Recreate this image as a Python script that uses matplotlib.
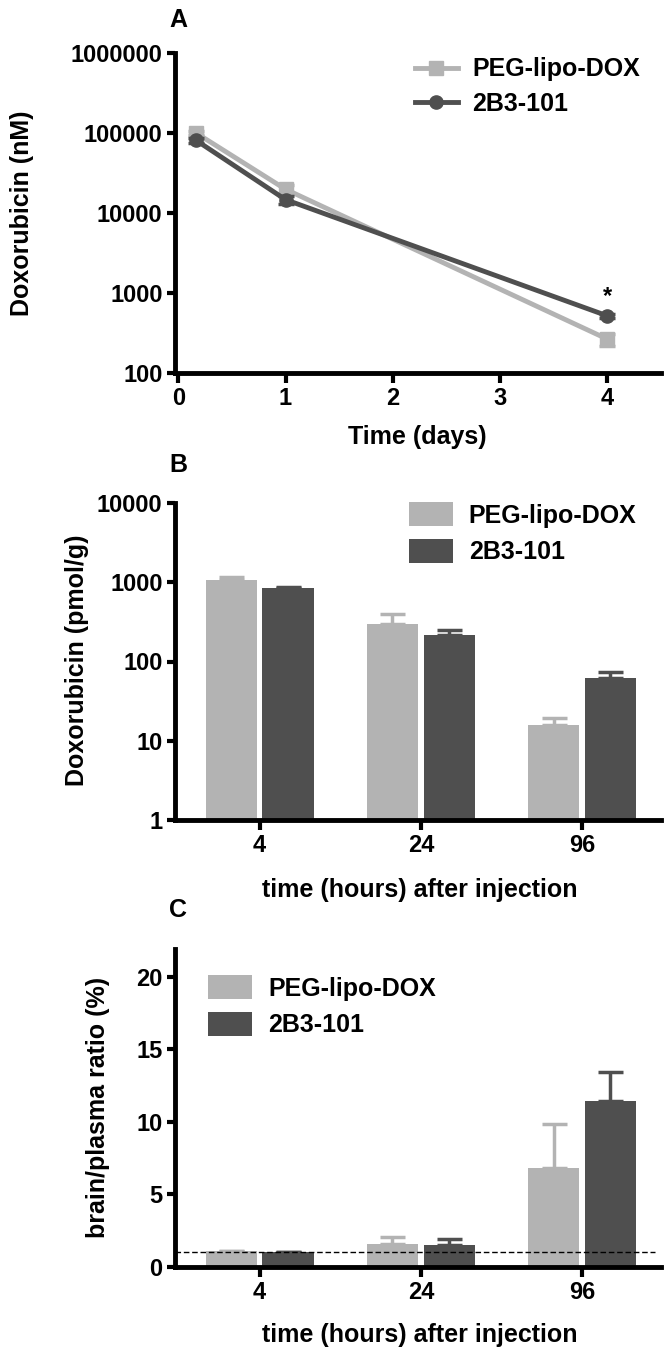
import numpy as np
import matplotlib
matplotlib.use("Agg")
import matplotlib.pyplot as plt
from matplotlib.ticker import FixedLocator, FuncFormatter, NullLocator

plt.rcParams["font.family"] = ["Liberation Sans", "DejaVu Sans"]
plt.rcParams["font.weight"] = "bold"
plt.rcParams["axes.labelweight"] = "bold"

# ---- data ----
series = ["PEG-lipo-DOX", "2B3-101"]
colors = ["#b3b3b3", "#4f4f4f"]

# panel A: plasma doxorubicin (nM) vs time (days)
a_days = [4 / 24, 1, 4]
a_peg = [100000, 19800, 265]
a_peg_err = [6000, 2500, 45]
a_2b3 = [81000, 14700, 518]
a_2b3_err = [5000, 1600, 30]
a_yticks = [100, 1000, 10000, 100000, 1000000]

# panel B: brain doxorubicin (pmol/g)
hours = ["4", "24", "96"]
b_peg = [1070, 301, 15.9]
b_peg_err = [110, 98, 3.4]
b_2b3 = [840, 213, 61.7]
b_2b3_err = [40, 35, 13]
b_yticks = [1, 10, 100, 1000, 10000]

# panel C: brain/plasma ratio (%)
c_peg = [1.08, 1.6, 6.83]
c_peg_err = [0.03, 0.47, 3.0]
c_2b3 = [1.03, 1.54, 11.43]
c_2b3_err = [0.02, 0.41, 2.0]
c_yticks = [0, 5, 10, 15, 20]
c_ref = 1.0

TFS = 17   # tick labels
LFS = 18   # axis labels, legends, panel letters
W, H = 664, 1357
fig = plt.figure(figsize=(W / 100, H / 100), dpi=100)


def rect(left, top, right, bottom):
    return [left / W, 1 - bottom / H, (right - left) / W, (bottom - top) / H]


def style(ax):
    for s in ["top", "right"]:
        ax.spines[s].set_visible(False)
    for s in ["left", "bottom"]:
        ax.spines[s].set_linewidth(3.5)
    ax.tick_params(width=3, length=6, labelsize=TFS, pad=3)
    ax.tick_params(axis="x", length=7, pad=3)
    for lab in ax.get_xticklabels() + ax.get_yticklabels():
        lab.set_fontweight("bold")


intfmt = FuncFormatter(lambda v, p: f"{v:g}" if v < 1e5 else f"{int(v)}")

# ---- panel A ----
axA = fig.add_axes(rect(175, 53, 661, 373))
axA.set_yscale("log")
for vals, errs, mk, ms, c, lab in [(a_peg, a_peg_err, "s", 10, colors[0], series[0]),
                                   (a_2b3, a_2b3_err, "o", 9.5, colors[1], series[1])]:
    axA.errorbar(a_days, vals, yerr=errs, fmt="none", ecolor=c, elinewidth=2.5,
                 capsize=6, capthick=2.5)
    axA.plot(a_days, vals, color=c, marker=mk, ms=ms, lw=3.5, label=lab)
axA.set_ylim(100, 1000000)
axA.set_xlim(-0.03, 4.5)
axA.yaxis.set_major_locator(FixedLocator(a_yticks))
axA.yaxis.set_minor_locator(NullLocator())
axA.yaxis.set_major_formatter(intfmt)
axA.set_xticks([0, 1, 2, 3, 4])
style(axA)
axA.text(a_days[2], a_2b3[2] * 1.75, "*", ha="center", va="center", fontsize=TFS)
axA.set_ylabel("Doxorubicin (nM)", fontsize=LFS, va="center")
axA.yaxis.set_label_coords(-0.315, 0.5)
axA.set_xlabel("Time (days)", fontsize=LFS, va="center")
axA.xaxis.set_label_coords(0.498, -0.2)
axA.legend(loc="upper left", bbox_to_anchor=(0.494, 0.986), frameon=False,
           borderpad=0, borderaxespad=0, handlelength=1.7, handletextpad=0.6,
           labelspacing=0.43, prop={"size": LFS, "weight": "bold"})
fig.text(178 / W, 1 - 20 / H, "A", ha="center", va="center", fontsize=LFS)

# ---- bar panels ----
x = np.arange(len(hours))
bw = 0.317
off = 0.176


def bars(ax, peg, peg_err, b2, b2_err, base):
    for vals, errs, sgn, c, lab in [(peg, peg_err, -1, colors[0], series[0]),
                                    (b2, b2_err, 1, colors[1], series[1])]:
        ax.bar(x + sgn * off, np.array(vals) - base, bw, bottom=base, color=c,
               label=lab, zorder=2)
        ax.errorbar(x + sgn * off, vals, yerr=[np.zeros(len(errs)), errs], fmt="none",
                    ecolor=c, elinewidth=2.5, capsize=9, capthick=2.5, zorder=1)
    ax.set_xlim(-0.525, 2.49)
    ax.set_xticks(x)
    ax.set_xticklabels(hours)


legkw = dict(loc="upper left", frameon=False, borderpad=0, borderaxespad=0,
             handlelength=1.75, handleheight=1.1, handletextpad=0.65,
             labelspacing=0.45, prop={"size": LFS, "weight": "bold"})

# panel B
axB = fig.add_axes(rect(175, 503, 661, 820))
axB.set_yscale("log")
bars(axB, b_peg, b_peg_err, b_2b3, b_2b3_err, 1)
axB.set_ylim(1, 10000)
axB.yaxis.set_major_locator(FixedLocator(b_yticks))
axB.yaxis.set_minor_locator(NullLocator())
axB.yaxis.set_major_formatter(intfmt)
style(axB)
axB.set_ylabel("Doxorubicin (pmol/g)", fontsize=LFS, va="center")
axB.yaxis.set_label_coords(-0.2016, 0.505)
axB.set_xlabel("time (hours) after injection", fontsize=LFS, va="center")
axB.xaxis.set_label_coords(0.504, -0.221)
axB.legend(bbox_to_anchor=(0.481, 1.003), **legkw)
fig.text(178 / W, 1 - 465 / H, "B", ha="center", va="center", fontsize=LFS)

# panel C
axC = fig.add_axes(rect(175, 949, 661, 1267))
bars(axC, c_peg, c_peg_err, c_2b3, c_2b3_err, 0)
axC.set_ylim(0, 21.9)
axC.set_yticks(c_yticks)
axC.axhline(c_ref, xmin=0, xmax=0.988, color="black", lw=1, ls=(0, (4, 2)), zorder=3)
style(axC)
axC.set_ylabel("brain/plasma ratio (%)", fontsize=LFS, va="center")
axC.yaxis.set_label_coords(-0.158, 0.503)
axC.set_xlabel("time (hours) after injection", fontsize=LFS, va="center")
axC.xaxis.set_label_coords(0.504, -0.214)
axC.legend(bbox_to_anchor=(0.068, 0.918), **legkw)
fig.text(178 / W, 1 - 910 / H, "C", ha="center", va="center", fontsize=LFS)

fig.savefig("out.png", dpi=100)
